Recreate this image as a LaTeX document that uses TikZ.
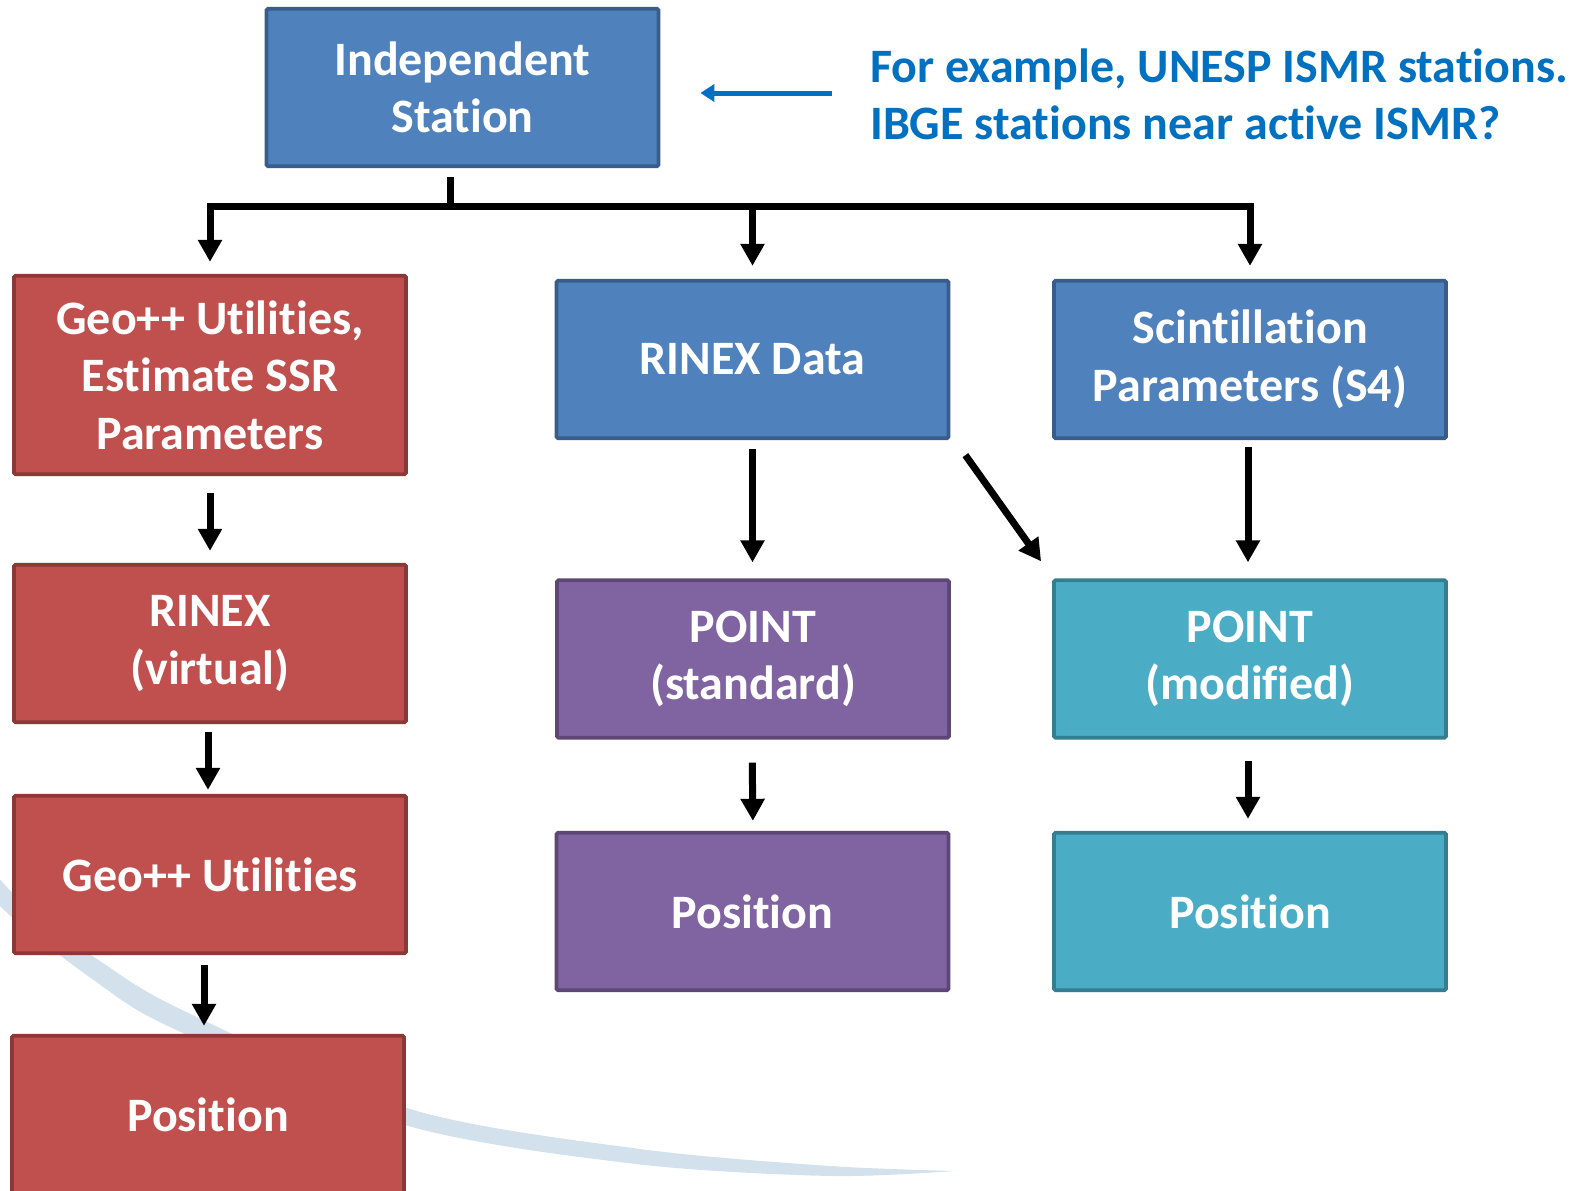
\documentclass[tikz,border=0pt]{standalone}
\usepackage{fontspec}
\setmainfont{Carlito}[Ligatures=NoCommon]
\usetikzlibrary{arrows.meta}
\definecolor{bfill}{HTML}{4F81BD}
\definecolor{bdraw}{HTML}{385D8A}
\definecolor{rfill}{HTML}{C0504D}
\definecolor{rdraw}{HTML}{8C3836}
\definecolor{pfill}{HTML}{8064A2}
\definecolor{pdraw}{HTML}{5C4776}
\definecolor{tfill}{HTML}{4BACC6}
\definecolor{tdraw}{HTML}{357D91}
\definecolor{notec}{HTML}{0070C0}
\definecolor{swoosh}{RGB}{210,225,236}
\begin{document}
\begin{tikzpicture}[x=1pt,y=-1pt,
  box/.style={draw, line width=3.8pt, rounded corners=1.5pt, minimum width=392pt, minimum height=157.5pt, inner sep=0pt, align=center, text=white, font=\fontsize{48}{57.5}\selectfont\bfseries},
  bluebox/.style={box, fill=bfill, draw=bdraw},
  redbox/.style={box, fill=rfill, draw=rdraw},
  purplebox/.style={box, fill=pfill, draw=pdraw},
  tealbox/.style={box, fill=tfill, draw=tdraw},
  arr/.style={line width=7pt, -{Triangle[width=23pt,length=22pt]}},
  bar/.style={line width=7pt, line join=miter},
  notearr/.style={draw=notec, line width=5pt, -{Triangle[width=17pt,length=14pt]}},
  notetext/.style={text=notec, align=left, inner sep=0pt, anchor=west, font=\fontsize{48}{57.5}\selectfont\bfseries}
]
\clip (0,0) rectangle (1580,1191);
\fill[white] (0,0) rectangle (1580,1191);
% background swoosh
\fill[swoosh] plot[smooth] coordinates {(-10,868) (30,910) (100,961) (180,1009) (410,1109) (640,1149) (830,1166) (955,1171)}
  -- plot[smooth] coordinates {(955,1171) (830,1176) (636,1164) (405,1125) (170,1027) (95,981) (20,924) (-10,896)} -- cycle;

% nodes
\node[bluebox] (IS) at (462.5,87.5) {Independent\\Station};
\node[notetext] (note) at (870,94.5) {For example, UNESP ISMR stations.\\IBGE stations near active ISMR?};
\node[redbox, minimum height=198.5pt] (R1) at (210,375) {Geo++ Utilities,\\Estimate SSR\\Parameters};
\node[bluebox] (RD) at (752.5,359.5) {RINEX Data};
\node[bluebox] (S) at (1250,359.5) {Scintillation\\Parameters (S4)};
\node[redbox] (R2) at (210,643.5) {RINEX\\(virtual)};
\node[redbox] (R3) at (210,874.5) {Geo++ Utilities};
\node[redbox] (R4) at (208,1114.5) {Position};
\node[purplebox] (PS) at (753,659) {POINT\\(standard)};
\node[tealbox] (PM) at (1250,659) {POINT\\(modified)};
\node[purplebox] (PP) at (752.5,911.5) {Position};
\node[tealbox] (PT) at (1250,911.5) {Position};

% note arrow
\coordinate (ntip) at ([xshift=40pt]IS.east);
\draw[notearr] ([xshift=-38pt,yshift=1.5pt]note.west) -- ([yshift=1.5pt]ntip |- note.west);

% tree from the independent station
\coordinate (bus) at (450,206);
\draw[bar] ([xshift=-12.5pt,yshift=-9pt]IS.south) -- (bus);
\draw[bar, arr] (bus) -| ([yshift=12pt]R1.north);
\draw[bar, arr] (bus) -| ([yshift=13pt]S.north);
\draw[arr] (RD.north |- bus) -- ([yshift=13pt]RD.north);

% left column
\draw[arr, shorten <=17pt, shorten >=12pt] (R1.south) -- (R2.north);
\draw[arr, shorten <=8pt, shorten >=4pt] ([xshift=-2pt]R2.south) -- ([xshift=-2pt]R3.north);
\draw[arr, shorten <=10pt, shorten >=8pt] ([xshift=-6pt]R3.south) -- ([xshift=-4pt]R4.north);

% middle and right columns
\draw[arr, shorten <=9pt, shorten >=16pt] (RD.south) -- (RD.south |- PS.north);
\draw[arr, shorten <=7pt, shorten >=16pt] ([xshift=-2pt]S.south) -- ([xshift=-2pt]PM.north);
\draw[arr] ([xshift=15pt,yshift=-15pt]RD.south east) -- ([xshift=-11pt,yshift=17pt]PM.north west);
\draw[arr, shorten <=23pt, shorten >=10pt] ([xshift=-1pt]PS.south) -- (PS.south |- PP.north);
\draw[arr, shorten <=21pt, shorten >=12pt] ([xshift=-2pt]PM.south) -- ([xshift=-2pt]PT.north);
\end{tikzpicture}
\end{document}
